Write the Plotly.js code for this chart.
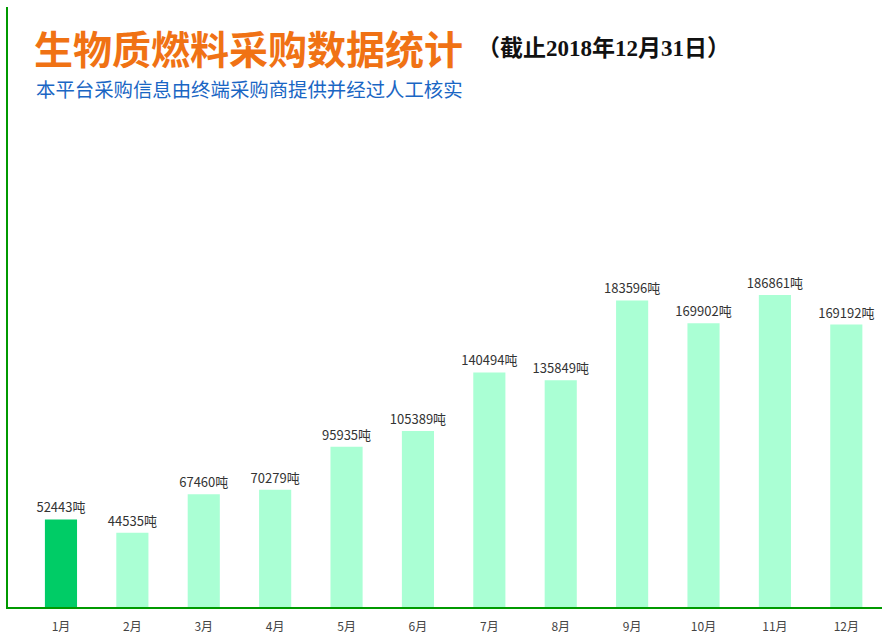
<!DOCTYPE html>
<html>
<head>
<meta charset="utf-8">
<script src="https://cdn.plot.ly/plotly-3.0.1.min.js"></script>
<style>html,body{margin:0;padding:0;background:#fff;}#chart{width:895px;height:644px;}</style>
</head>
<body>
<div id="chart"></div>
<script>
const months = ['1月','2月','3月','4月','5月','6月','7月','8月','9月','10月','11月','12月'];
const tons = [52443, 44535, 67460, 70279, 95935, 105389, 140494, 135849, 183596, 169902, 186861, 169192];
const unit = '吨';
const barColors = ['#00cc66','#aaffd4','#aaffd4','#aaffd4','#aaffd4','#aaffd4','#aaffd4','#aaffd4','#aaffd4','#aaffd4','#aaffd4','#aaffd4'];
const titleText = '生物质燃料采购数据统计';
const subtitleText = '本平台采购信息由终端采购商提供并经过人工核实';
const dateText = '（截止2018年12月31日）';

const cjk = '"Microsoft YaHei", "Noto Sans CJK SC", sans-serif';

const trace = {
  type: 'bar',
  x: months.map((m, i) => i),
  y: tons,
  width: 0.45,
  marker: {color: barColors, line: {width: 0}},
  text: tons.map(v => v + unit),
  textposition: 'outside',
  constraintext: 'none',
  textfont: {family: cjk, size: 13, color: '#333333'},
  cliponaxis: false,
  hoverinfo: 'none'
};

const layout = {
  width: 895, height: 644,
  margin: {l: 8, r: 13, t: 7, b: 37},
  paper_bgcolor: '#ffffff', plot_bgcolor: '#ffffff',
  showlegend: false,
  xaxis: {
    range: [-0.742, 11.5],
    tickmode: 'array',
    tickvals: months.map((m, i) => i),
    ticktext: months,
    showgrid: false, zeroline: false,
    showline: true, linecolor: '#009900', linewidth: 2,
    ticks: '', ticklabelstandoff: 8,
    tickfont: {family: cjk, size: 12, color: '#444444'}
  },
  yaxis: {
    range: [0, 359350],
    showgrid: false, zeroline: false,
    showticklabels: false, ticks: '',
    showline: true, linecolor: '#009900', linewidth: 2
  },
  annotations: [
    {xref: 'paper', yref: 'paper', x: (32 - 8) / 874, y: (607 - 47) / 600,
     xanchor: 'left', yanchor: 'middle', showarrow: false,
     text: '<b>' + titleText + '</b>',
     font: {family: cjk, size: 39, color: '#f07214'}},
    {xref: 'paper', yref: 'paper', x: (475 - 8) / 874, y: (607 - 48) / 600,
     xanchor: 'left', yanchor: 'middle', showarrow: false,
     text: '<b>' + dateText + '</b>',
     font: {family: '"Liberation Serif", "Noto Sans CJK SC", serif', size: 23, color: '#111111'}},
    {xref: 'paper', yref: 'paper', x: (34 - 8) / 874, y: (607 - 88) / 600,
     xanchor: 'left', yanchor: 'middle', showarrow: false,
     text: subtitleText,
     font: {family: cjk, size: 19.4, color: '#1a66c4'}}
  ]
};

Plotly.newPlot('chart', [trace], layout, {displayModeBar: false, staticPlot: true});
</script>
</body>
</html>
